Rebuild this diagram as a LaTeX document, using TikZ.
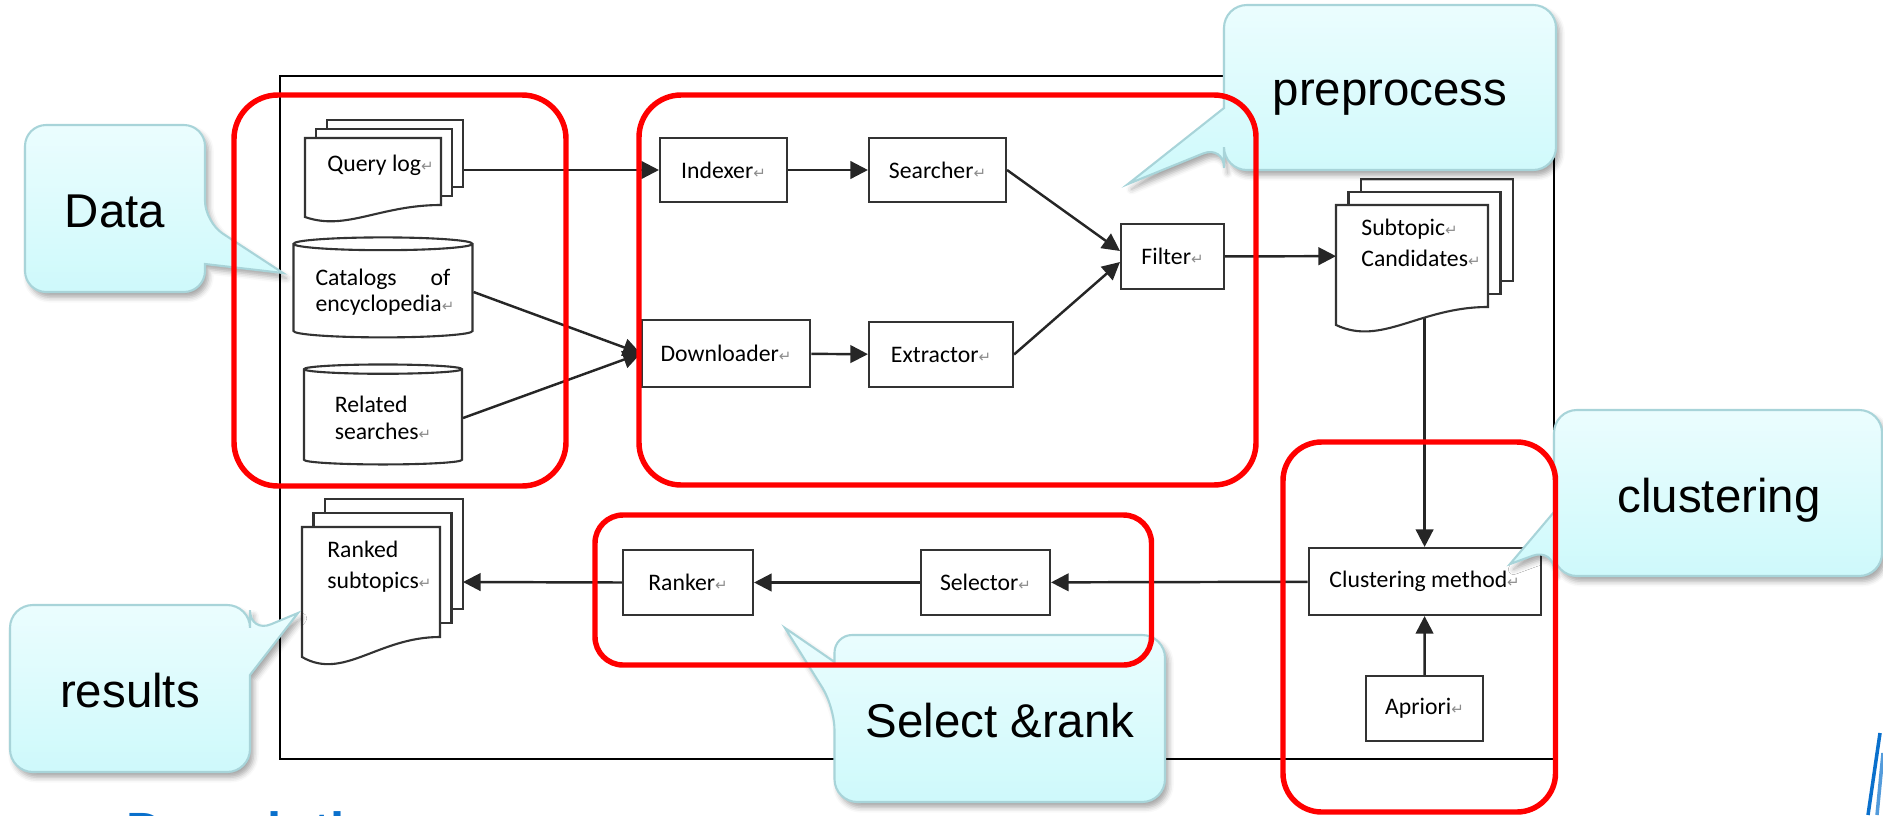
\documentclass[tikz,border=0pt]{standalone}
\usepackage{fontspec}
\setmainfont{Liberation Sans}
\newfontfamily\boxfont{Carlito}
\newfontfamily\markfont{DejaVu Sans}
\usetikzlibrary{arrows.meta,calc,shapes.geometric,shadows.blur}

\definecolor{noteTop}{HTML}{EBFDFE}
\definecolor{noteBottom}{HTML}{CEF9FB}
\definecolor{noteLine}{HTML}{A8D4D9}
\definecolor{slideBlue}{HTML}{0A70CC}

% small return mark behind each label
\newcommand{\retmark}{\textcolor{black!45}{\markfont\fontsize{8.5}{8.5}\selectfont ↵}}

% three stacked pages behind node #1, offset (#2,#3), wave depth #4
\newcommand{\docstack}[4]{%
  \foreach \k in {2,1}
    \filldraw[sheet] ([shift={(\k*#2,-\k*#3)}]#1.north west) rectangle ([shift={(\k*#2,-\k*#3)}]#1.south east);
  \filldraw[sheet] let \p1=(#1.south west), \p2=(#1.south east) in
    (#1.north west) -- (#1.north east) -- (#1.south east)
    .. controls ($(\p2)!0.45!(\p1)$) and ($(\p1)!0.3!(\p2)+(0,#4*2.2)$) .. ($(\p1)+(0,#4)$) -- cycle;
}

\begin{document}
\begin{tikzpicture}[x=0.02cm, y=-0.02cm,
    box/.style={draw=black!80, line width=1.2pt, fill=white, inner sep=2pt,
      font=\boxfont\fontsize{13.5}{16}\selectfont},
    db/.style={box, cylinder, shape border rotate=90, aspect=0.09, align=left},
    sheet/.style={draw=black!80, line width=1.2pt, fill=white},
    spot/.style={inner sep=0pt, outer sep=0pt},
    doctext/.style={inner sep=0pt, align=left, font=\boxfont\fontsize{13.5}{17.5}\selectfont},
    arr/.style={-{Triangle[length=10pt,width=10pt]}, line width=1.4pt, draw=black!85},
    outer/.style={draw=black, line width=1.5pt},
    note/.style={draw=noteLine, line width=1.2pt, top color=noteTop, bottom color=noteBottom,
      blur shadow={shadow xshift=2pt, shadow yshift=-3pt, shadow blur radius=3pt, shadow opacity=35}},
    notetext/.style={inner sep=0pt, font=\fontsize{27}{32}\selectfont},
    bundle/.style={draw=red, line width=3.1pt}]

\useasboundingbox (0,0) rectangle (1883,815);
\clip (0,0) rectangle (1883,815);

% outer frame
\draw[outer] (280,76) rectangle (1554,759);

% processing boxes
\node[box, minimum width=2.54cm, minimum height=1.28cm] (idx) at (723.5,170) {Indexer\retmark};
\node[box, minimum width=2.74cm, minimum height=1.28cm] (srch) at (937.5,170) {Searcher\retmark};
\node[box, minimum width=3.37cm, minimum height=1.34cm] (dl) at (726,353.5) {Downloader\retmark};
\node[box, minimum width=2.88cm, minimum height=1.30cm] (ext) at (941,354.5) {Extractor\retmark};
\node[box, minimum width=2.06cm, minimum height=1.30cm] (flt) at (1172.5,256.5) {Filter\retmark};
\node[box, minimum width=4.64cm, minimum height=1.34cm] (clu) at (1424.6,581.5) {Clustering method\retmark};
\node[box, minimum width=2.34cm, minimum height=1.30cm] (apr) at (1424.5,708.5) {Apriori\retmark};
\node[box, minimum width=2.58cm, minimum height=1.30cm] (sel) at (985.5,582.5) {Selector\retmark};
\node[box, minimum width=2.60cm, minimum height=1.30cm] (rnk) at (688,582.5) {Ranker\retmark};

% data sources
\node[db, minimum width=3.58cm, minimum height=2cm, text width=2.7cm,
  font=\boxfont\fontsize{13.5}{14.5}\selectfont] (cat) at (383,292) {Catalogs\hfill of\\encyclopedia\retmark};
\node[db, minimum width=3.16cm, minimum height=2cm,
  font=\boxfont\fontsize{13.5}{15.5}\selectfont] (rel) at (383,418) {Related\\searches\retmark};

% places of the document stacks
\node[spot, minimum width=2.72cm, minimum height=1.34cm] (qlogpg) at (373,171.5) {};
\node[spot, minimum width=3.04cm, minimum height=2.04cm] (subpg) at (1412,256) {};
\node[spot, minimum width=2.76cm, minimum height=2.2cm] (rkpg) at (371,582) {};

% connectors (the pages are drawn over their ends)
\draw[arr] (qlogpg.east |- idx.west) -- (idx.west);
\draw[arr] (idx) -- (srch);
\draw[arr] (cat.east) -- (dl.west);
\draw[arr] (rel.east) -- (dl.west);
\draw[arr] (dl) -- (ext);
\draw[arr] (srch.east) -- (flt.174);
\draw[arr] (ext.east) -- (flt.186);
\draw[arr] (flt) -- (subpg);
\draw[arr] (subpg.south -| clu.north) -- (clu.north);
\draw[arr] (apr) -- (clu);
\draw[arr] (clu) -- (sel);
\draw[arr] (sel) -- (rnk);
\draw[arr] (rnk.west) -- ([shift={(23,0)}]rkpg.east);

% document stacks
\docstack{qlogpg}{11}{9}{12}
\docstack{subpg}{12.5}{13}{18}
\docstack{rkpg}{11.5}{14}{20}
\node[doctext, anchor=west] (qlog) at (327,165) {Query log\retmark};
\node[doctext, anchor=west] (subc) at (1361,243) {Subtopic\retmark\\Candidates\retmark};
\node[doctext, anchor=west] (rkst) at (327,567) {Ranked\\subtopics\retmark};

% callouts
\path[note] (115,125) [rounded corners=12pt] -- (205,125) -- (205,222) [sharp corners] -- (283,273)
  -- (205,264) [rounded corners=12pt] -- (205,292) -- (25,292) -- (25,125) -- cycle;
\path[note] (1390,5) [rounded corners=13pt] -- (1556,5) -- (1556,170) -- (1224,170) -- (1224,145)
  [sharp corners] -- (1128,184) -- (1224,108) [rounded corners=13pt] -- (1224,5) -- cycle;
\path[note] (1718,410) [rounded corners=13pt] -- (1882,410) -- (1882,576) -- (1554,576) -- (1554,548)
  [sharp corners] -- (1510,564) -- (1554,512) [rounded corners=13pt] -- (1554,410) -- cycle;
\path[note] (130,605) [rounded corners=13pt] -- (250,605) -- (250,633) [sharp corners] -- (298,613)
  -- (250,675) [rounded corners=13pt] -- (250,772) -- (10,772) -- (10,605) -- cycle;
\path[note] (1000,635) [rounded corners=13pt] -- (1165,635) -- (1165,802) -- (834.5,802) -- (834.5,707)
  [sharp corners] -- (785,628) -- (834.5,662) [rounded corners=10pt] -- (834.5,635) -- cycle;

\node[notetext, anchor=base] (dataTip) at (115,227) {Data};
\node[notetext, anchor=base] (prepTip) at (1390,105.5) {preprocess};
\node[notetext, anchor=base] (clusTip) at (1719,512) {clustering};
\node[notetext, anchor=base] (resTip) at (130,707) {results};
\node[notetext, anchor=base] (selTip) at (1000,737) {Select \&rank};

% red group outlines
\draw[bundle, rounded corners=25pt] (234,95) rectangle (566,486);
\draw[bundle, rounded corners=24pt] (639,95) rectangle (1256,485);
\draw[bundle, rounded corners=16pt] (595,515) rectangle (1151.5,665);
\draw[bundle, rounded corners=22pt] (1283,442) rectangle (1555.5,812);

% slide heading and corner strokes
\node[inner sep=0pt, anchor=base west, text=slideBlue, font=\bfseries\fontsize{29}{34}\selectfont]
  (heading) at (126,848) {Description};
\draw[slideBlue, line width=2pt] (1880,733) -- (1868,815);
\draw[slideBlue!70, line width=2pt] (1883,753) -- (1877,815);

\end{tikzpicture}
\end{document}
